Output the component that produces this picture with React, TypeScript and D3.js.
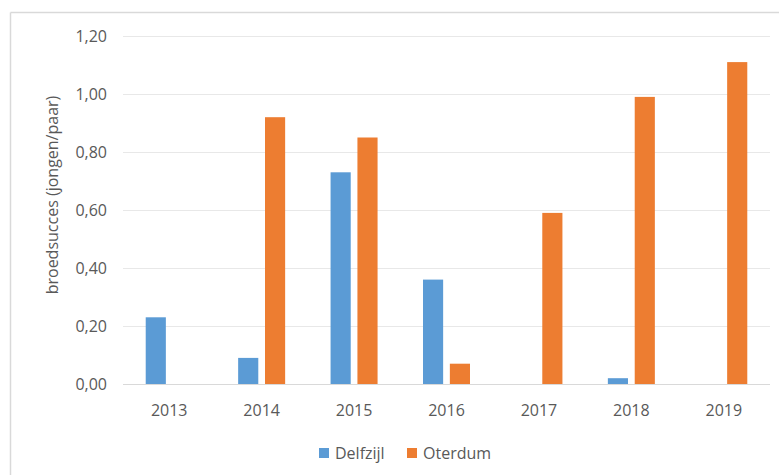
import React from "react";
import * as d3 from "d3";

const years = ["2013", "2014", "2015", "2016", "2017", "2018", "2019"];
const seriesNames = ["Delfzijl", "Oterdum"];
const delfzijl: (number | null)[] = [0.23, 0.09, 0.73, 0.36, null, 0.02, null];
const oterdum: (number | null)[] = [null, 0.92, 0.85, 0.07, 0.59, 0.99, 1.11];
const yTicks = [0, 0.2, 0.4, 0.6, 0.8, 1.0, 1.2];
const colors = ["#5B9BD5", "#ED7D31"];

const W = 779;
const H = 475;
const FONT = "'Open Sans', sans-serif";
const TXT = "#595959";

export default function App() {
  const x = d3.scaleBand<string>().domain(years).range([123, 770]).paddingInner(0).paddingOuter(0);
  const y = d3.scaleLinear().domain([0, 1.2]).range([384, 36]);
  const groupW = 47;
  const xs = d3.scaleBand<string>().domain(seriesNames).range([0, groupW]).paddingInner(0.25);
  const data = [delfzijl, oterdum];
  const fmt = (v: number) => v.toFixed(2).replace(".", ",");

  return (
    <svg width={W} height={H} style={{ position: "absolute", left: 0, top: 0, background: "#fff" }}>
      <rect x={0} y={0} width={W} height={H} fill="#fff" />
      {/* chart frame */}
      <line x1={10.5} y1={12.5} x2={W} y2={12.5} stroke="#D9D9D9" strokeWidth={1.5} />
      <line x1={10.5} y1={12.5} x2={10.5} y2={H} stroke="#D9D9D9" strokeWidth={1.5} />
      {/* gridlines */}
      {yTicks.map((t) => (
        <line key={t} x1={123} x2={770} y1={Math.round(y(t)) + 0.5} y2={Math.round(y(t)) + 0.5} stroke={t === 0 ? "#D9D9D9" : "#E8E8E8"} strokeWidth={1.2} />
      ))}
      {/* y tick labels */}
      {yTicks.map((t) => (
        <text key={"l" + t} x={107} y={y(t)} dy="0.36em" textAnchor="end" fontFamily={FONT} fontSize={16} fill={TXT}>
          {fmt(t)}
        </text>
      ))}
      {/* bars */}
      {data.map((arr, si) =>
        arr.map((v, i) =>
          v == null ? null : (
            <rect
              key={si + "-" + i}
              x={(x(years[i]) as number) + x.bandwidth() / 2 - groupW / 2 + (xs(seriesNames[si]) as number)}
              y={y(v)}
              width={xs.bandwidth()}
              height={y(0) - y(v)}
              fill={colors[si]}
            />
          )
        )
      )}
      {/* x labels */}
      {years.map((yr) => (
        <text key={yr} x={(x(yr) as number) + x.bandwidth() / 2} y={416} textAnchor="middle" fontFamily={FONT} fontSize={16} fill={TXT}>
          {yr}
        </text>
      ))}
      {/* y title */}
      <text transform="translate(58,195) rotate(-90)" textAnchor="middle" fontFamily={FONT} fontSize={16} fill={TXT}>
        broedsucces (jongen/paar)
      </text>
      {/* legend */}
      <rect x={319} y={448} width={10} height={10} fill={colors[0]} />
      <text x={335} y={459} fontFamily={FONT} fontSize={16} fill={TXT}>{seriesNames[0]}</text>
      <rect x={407} y={448} width={10} height={10} fill={colors[1]} />
      <text x={423} y={459} fontFamily={FONT} fontSize={16} fill={TXT}>{seriesNames[1]}</text>
    </svg>
  );
}
